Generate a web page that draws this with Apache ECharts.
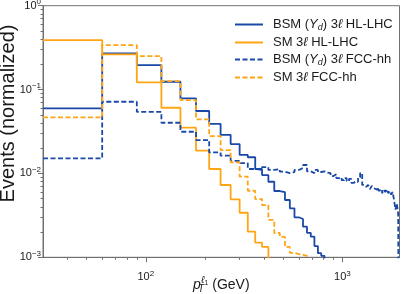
<!DOCTYPE html>
<html><head><meta charset="utf-8">
<script src="https://cdn.jsdelivr.net/npm/echarts@6/dist/echarts.min.js"></script>
<style>html,body{margin:0;padding:0;background:#fff}#c{width:401px;height:294px}</style>
</head><body><div id="c"></div>
<script>
// bin edges (GeV)
const binEdges = [30,60,90,120,150,180,210,240,270,300,330,360,390,420,450,480,510,540,570,600,630,660,690,720,750,780,810,840,870,900,930,960,990,1020,1050,1080,1110,1140,1170,1200,1230,1260,1290,1320,1350,1380,1410,1440,1470,1500,1530,1560,1590,1620,1650,1680,1710,1740,1770,1800,1830,1860,1890,1920,1950];
// normalized events per bin
const bsmHL = [0.0597,0.270,0.196,0.124,0.0785,0.0555,0.039,0.0289,0.0224,0.0166,0.0156,0.0113,0.00957,0.00796,0.00617,0.0060,0.00482,0.00384,0.0030,0.00286,0.00232,0.00196,0.00176,0.00136,0.00112,0.00104];
const smHL = [0.389,0.263,0.122,0.0607,0.0351,0.0187,0.0113,0.00728,0.00491,0.0034,0.00202,0.0015,0.00133];
const bsmFCC = [0.0151,0.0716,0.0543,0.0402,0.0314,0.025,0.0178,0.0163,0.0141,0.0133,0.0113,0.0110,0.0119,0.0110,0.0113,0.0105,0.0101,0.0104,0.0110,0.0116,0.0126,0.0106,0.0101,0.0110,0.0104,0.0106,0.0102,0.0101,0.0093,0.0098,0.0088,0.0090,0.0083,0.0088,0.0081,0.0086,0.0077,0.0081,0.0079,0.0090,0.0101,0.0073,0.0075,0.0069,0.0073,0.0065,0.0071,0.0067,0.0064,0.0069,0.0062,0.0065,0.0058,0.0064,0.0060,0.0065,0.0058,0.0062,0.0056,0.0060,0.0048,0.0037,0.0044,0.0033];
const smFCC = [0.0467,0.339,0.251,0.126,0.075,0.0442,0.0279,0.019,0.01355,0.00915,0.00622,0.00495,0.0042,0.00279,0.00195,0.00175,0.00133,0.00113,0.00109,0.00107,0.00104];
const seriesNames = ['BSM (Yd) 3ℓ HL-LHC','SM 3ℓ HL-LHC','BSM (Yd) 3ℓ FCC-hh','SM 3ℓ FCC-hh'];
const xMajorTicks = [100,1000];
const xMinorTicks = [40,50,60,70,80,90,200,300,400,500,600,700,800,900];
const yMajorTicks = [0.001,0.01,0.1,1];
const yMinorTicks = [0.002,0.003,0.004,0.005,0.006,0.007,0.008,0.009,0.02,0.03,0.04,0.05,0.06,0.07,0.08,0.09,0.2,0.3,0.4,0.5,0.6,0.7,0.8,0.9];
const xMin = 30, xMax = 1950, yMin = 0.001, yMax = 1;

const FONT = 'Liberation Sans, Arial, Helvetica, sans-serif';
const BLUE = '#1a48a8', ORANGE = '#ffa514', AX = '#707070', TXT = '#1a1a1a';

function steps(vals){
  const pts = vals.map((v,i)=>[binEdges[i], v]);
  pts.push([binEdges[vals.length], 1e-6]);
  return pts;
}
function powLabel(v){
  const e = Math.round(Math.log10(v));
  return '{b|10}{s|' + (e < 0 ? '\u2212' + (-e) : e) + '}';
}
const tickRich = {
  b:{fontSize:11, fontFamily:FONT, color:TXT},
  s:{fontSize:8, fontFamily:FONT, color:TXT, padding:[0,0,7,0]}
};
const legendLabels = {
  'BSM (Yd) 3ℓ HL-LHC':'{r|BSM (}{i|Y}{sub|d}{r|) 3}{i|ℓ}{r| HL-LHC}',
  'SM 3ℓ HL-LHC':'{r|SM 3}{i|ℓ}{r| HL-LHC}',
  'BSM (Yd) 3ℓ FCC-hh':'{r|BSM (}{i|Y}{sub|d}{r|) 3}{i|ℓ}{r| FCC-hh}',
  'SM 3ℓ FCC-hh':'{r|SM 3}{i|ℓ}{r| FCC-hh}'
};
function mkSeries(name, vals, color, dashed){
  return {name, type:'line', step:'end', data:steps(vals), symbol:'none', showSymbol:false,
    xAxisIndex:0, yAxisIndex:0, clip:true, animation:false,
    lineStyle:{color, width:1.8, type: dashed ? [5,2.5] : 'solid'}, itemStyle:{color}};
}
const chart = echarts.init(document.getElementById('c'), null, {renderer:'canvas'});
chart.setOption({
  animation:false,
  backgroundColor:'#fff',
  grid:{left:43, right:1.5, top:5.7, bottom:36.7, show:true, borderColor:AX, borderWidth:1,
    containLabel:false, outerBoundsMode:'none'},
  legend:{
    orient:'vertical', left:229, top:13, itemWidth:28, itemHeight:12, itemGap:4,
    data:seriesNames, formatter:n=>legendLabels[n],
    itemStyle:{opacity:0},
    textStyle:{fontSize:13, fontFamily:FONT, color:TXT, padding:[0,0,0,5],
      rich:{
        r:{fontSize:13, fontFamily:FONT, color:TXT},
        i:{fontSize:13, fontFamily:FONT, fontStyle:'italic', color:TXT},
        sub:{fontSize:9, fontFamily:FONT, fontStyle:'italic', color:TXT, padding:[6,0,0,0]}
      }}
  },
  xAxis:[{
    type:'log', logBase:10, min:xMin, max:xMax, position:'bottom',
    axisLine:{show:true, lineStyle:{color:AX, width:1}},
    axisTick:{show:true, customValues:xMajorTicks, length:5, lineStyle:{color:AX}},
    axisLabel:{show:true, customValues:xMajorTicks, formatter:powLabel, rich:tickRich, margin:12},
    splitLine:{show:false}, minorTick:{show:false},
    name:'{p|p}{t|T}{s|ℓ}{s1|1}{n| (GeV)}', nameLocation:'middle', nameGap:18, nameMoveOverlap:false,
    nameTextStyle:{rich:{
      p:{fontSize:14, fontFamily:FONT, fontStyle:'italic', color:TXT},
      t:{fontSize:10, fontFamily:FONT, fontStyle:'italic', color:TXT, padding:[8,0,0,0], width:0.5},
      s:{fontSize:10, fontFamily:FONT, fontStyle:'italic', color:TXT, padding:[0,0,9,0]},
      s1:{fontSize:7, fontFamily:FONT, color:TXT, padding:[0,0,4,0]},
      n:{fontSize:14, fontFamily:FONT, color:TXT}
    }}
  },{
    type:'log', logBase:10, min:xMin, max:xMax, position:'bottom',
    axisLine:{show:false}, axisLabel:{show:false}, splitLine:{show:false},
    axisTick:{show:true, customValues:xMinorTicks, length:2.5, lineStyle:{color:AX}}
  }],
  yAxis:[{
    type:'log', logBase:10, min:yMin, max:yMax, position:'left',
    axisLine:{show:true, lineStyle:{color:AX, width:1}},
    axisTick:{show:true, customValues:yMajorTicks, length:5, lineStyle:{color:AX}},
    axisLabel:{show:true, customValues:yMajorTicks, formatter:powLabel, rich:tickRich, margin:2},
    splitLine:{show:false}, minorTick:{show:false},
    name:'Events (normalized)', nameLocation:'middle', nameRotate:90, nameGap:25, nameMoveOverlap:false,
    nameTextStyle:{fontSize:20, fontFamily:FONT, color:TXT, padding:[0,0,0,36]}
  },{
    type:'log', logBase:10, min:yMin, max:yMax, position:'left',
    axisLine:{show:false}, axisLabel:{show:false}, splitLine:{show:false},
    axisTick:{show:true, customValues:yMinorTicks, length:2.5, lineStyle:{color:AX}}
  }],
  series:[
    mkSeries(seriesNames[0], bsmHL, BLUE, false),
    mkSeries(seriesNames[1], smHL, ORANGE, false),
    mkSeries(seriesNames[2], bsmFCC, BLUE, true),
    mkSeries(seriesNames[3], smFCC, ORANGE, true)
  ]
});
</script></body></html>
